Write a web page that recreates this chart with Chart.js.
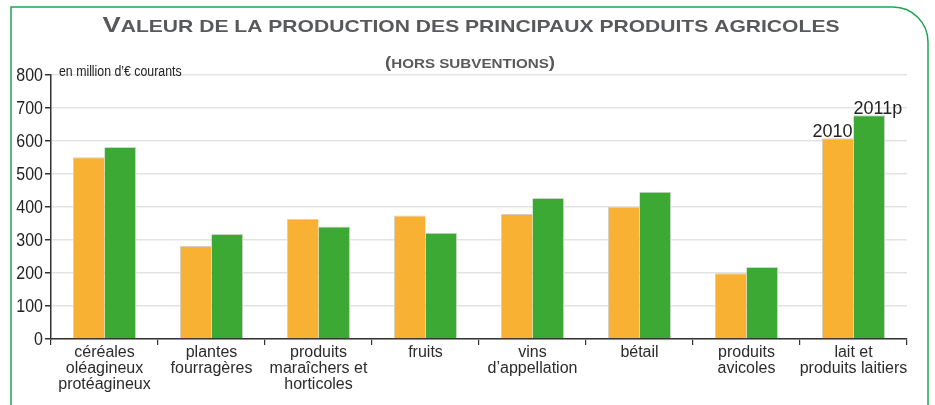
<!DOCTYPE html>
<html>
<head>
<meta charset="utf-8">
<script src="https://cdn.jsdelivr.net/npm/chart.js@4/dist/chart.umd.min.js"></script>
<style>
  html, body { margin: 0; padding: 0; background: #fff; }
  #wrap { position: relative; width: 935px; height: 405px; }
</style>
</head>
<body>
<div id="wrap"><canvas id="chart" width="935" height="405"></canvas></div>
<script>
// categories and values (million € courants)
const categories = [
    ['céréales', 'oléagineux', 'protéagineux'],
    ['plantes', 'fourragères'],
    ['produits', 'maraîchers et', 'horticoles'],
    ['fruits'],
    ['vins', 'd\u2019appellation'],
    ['bétail'],
    ['produits', 'avicoles'],
    ['lait et', 'produits laitiers']
];
const values2010 = [551, 282, 364, 374, 379, 400, 199, 608];
const values2011 = [582, 318, 341, 322, 427, 446, 218, 678];
const seriesNames = ['2010', '2011p'];
const yTicks = [0, 100, 200, 300, 400, 500, 600, 700, 800];

const SANS = '"Liberation Sans", Arial, sans-serif';

// draws "big first + smaller uppercase rest" runs, stretched to a given width
function drawSmallCaps(ctx, parts, cx, baseline, targetWidth) {
    let total = 0;
    parts.forEach(p => { ctx.font = p.font; p.w = ctx.measureText(p.text).width; total += p.w; });
    const sx = targetWidth / total;
    ctx.save();
    ctx.translate(cx - targetWidth / 2, baseline);
    ctx.scale(sx, 1);
    ctx.textAlign = 'left';
    ctx.textBaseline = 'alphabetic';
    let x = 0;
    parts.forEach(p => { ctx.font = p.font; ctx.fillText(p.text, x, 0); x += p.w; });
    ctx.restore();
}

const decorPlugin = {
    id: 'decor',
    beforeDraw(chart) {
        const ctx = chart.ctx;
        // green frame with rounded top-right corner
        ctx.save();
        ctx.strokeStyle = '#1da653';
        ctx.lineWidth = 1.5;
        ctx.beginPath();
        ctx.moveTo(11, 405);
        ctx.lineTo(11, 7);
        ctx.lineTo(893, 7);
        ctx.arcTo(928, 7, 928, 42, 35);
        ctx.lineTo(928, 405);
        ctx.stroke();
        ctx.restore();
    },
    afterDraw(chart) {
        const ctx = chart.ctx;
        ctx.save();
        // title, small caps look
        ctx.fillStyle = '#58595b';
        drawSmallCaps(ctx, [
            { text: 'V', font: 'bold 22px ' + SANS },
            { text: 'ALEUR DE LA PRODUCTION DES PRINCIPAUX PRODUITS AGRICOLES', font: 'bold 17px ' + SANS }
        ], 471, 32, 737);
        drawSmallCaps(ctx, [
            { text: '(', font: 'bold 16px ' + SANS },
            { text: 'HORS SUBVENTIONS', font: 'bold 13px ' + SANS },
            { text: ')', font: 'bold 16px ' + SANS }
        ], 470, 68, 170);

        // unit
        ctx.fillStyle = '#222';
        ctx.textAlign = 'left';
        ctx.textBaseline = 'alphabetic';
        ctx.save();
        ctx.translate(59, 76);
        ctx.scale(0.88, 1);
        ctx.font = '14px ' + SANS;
        ctx.fillText('en million d\u2019€ courants', 0, 0);
        ctx.restore();

        // y tick labels, condensed
        const ys = chart.scales.y;
        ctx.font = '19px ' + SANS;
        ctx.fillStyle = '#222';
        ctx.textAlign = 'right';
        ctx.textBaseline = 'middle';
        ys.ticks.forEach(t => {
            ctx.save();
            ctx.translate(43, ys.getPixelForValue(t.value) + 1);
            ctx.scale(0.84, 1);
            ctx.fillText(String(t.value), 0, 0);
            ctx.restore();
        });

        // series labels above the last pair of bars
        const last = categories.length - 1;
        const b0 = chart.getDatasetMeta(0).data[last];
        const b1 = chart.getDatasetMeta(1).data[last];
        ctx.font = '18px ' + SANS;
        ctx.fillStyle = '#222';
        ctx.textBaseline = 'alphabetic';
        ctx.textAlign = 'right';
        ctx.fillText(seriesNames[0], b0.x + b0.width / 2 - 1, b0.y - 1);
        ctx.textAlign = 'left';
        ctx.fillText(seriesNames[1], b1.x - b1.width / 2, b1.y - 1);
        ctx.restore();
    }
};

new Chart(document.getElementById('chart').getContext('2d'), {
    type: 'bar',
    data: {
        labels: categories,
        datasets: [{
            label: seriesNames[0],
            data: values2010,
            backgroundColor: '#f8b133',
            borderColor: '#d9cfc0',
            borderWidth: { top: 1, left: 1, right: 0, bottom: 0 },
            borderSkipped: false
        }, {
            label: seriesNames[1],
            data: values2011,
            backgroundColor: '#3ca935',
            borderColor: '#c9d6c5',
            borderWidth: { top: 1, left: 0, right: 1, bottom: 0 },
            borderSkipped: false
        }]
    },
    options: {
        responsive: false,
        animation: false,
        layout: { padding: { top: 75, right: 28, left: 0, bottom: 0 } },
        plugins: {
            legend: { display: false },
            tooltip: { enabled: false }
        },
        datasets: {
            bar: { categoryPercentage: 0.59, barPercentage: 1.0 }
        },
        scales: {
            x: {
                grid: {
                    offset: true,
                    drawOnChartArea: false,
                    drawTicks: true,
                    tickLength: 6,
                    tickColor: '#333',
                    lineWidth: 1.2
                },
                border: { color: '#333', width: 1.5 },
                ticks: {
                    color: '#2b2b2b',
                    font: { family: SANS, size: 16, lineHeight: 1.0 },
                    padding: 0,
                    maxRotation: 0,
                    autoSkip: false
                },
                afterFit(scale) { scale.height = 66; }
            },
            y: {
                min: 0,
                max: 800,
                afterBuildTicks(scale) { scale.ticks = yTicks.map(v => ({ value: v })); },
                grid: {
                    color: '#e3e3e3',
                    lineWidth: 1.5,
                    tickLength: 6,
                    tickColor: '#333'
                },
                border: { color: '#333', width: 1.5 },
                ticks: { display: false },
                afterFit(scale) { scale.width = 51; }
            }
        }
    },
    plugins: [decorPlugin]
});
</script>
</body>
</html>
